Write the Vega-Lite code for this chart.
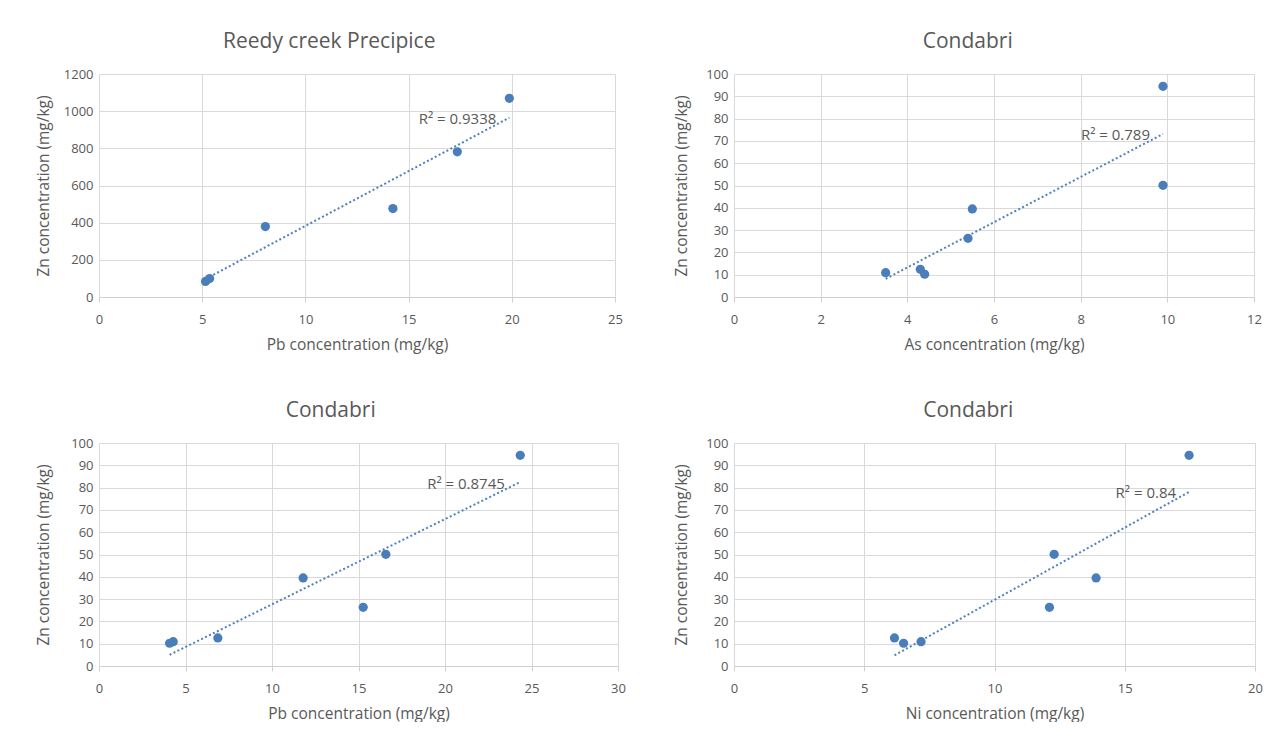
{
  "$schema": "https://vega.github.io/schema/vega-lite/v6.json",
  "background": "white",
  "padding": {"left": 36, "top": 31, "right": 0, "bottom": 0},
  "autosize": {"type": "pad"},
  "datasets": {
    "tl": [
      {"pb": 5.16, "zn": 84}, {"pb": 5.36, "zn": 99}, {"pb": 8.06, "zn": 379},
      {"pb": 14.24, "zn": 476}, {"pb": 17.36, "zn": 781}, {"pb": 19.88, "zn": 1069}
    ],
    "tr": [
      {"as": 3.5, "zn": 10.9}, {"as": 4.3, "zn": 12.4}, {"as": 4.4, "zn": 10.2},
      {"as": 5.4, "zn": 26.3}, {"as": 5.5, "zn": 39.5}, {"as": 9.9, "zn": 94.5}, {"as": 9.9, "zn": 50.1}
    ],
    "bl": [
      {"pb": 4.08, "zn": 10.2}, {"pb": 4.29, "zn": 10.9}, {"pb": 6.87, "zn": 12.6},
      {"pb": 11.8, "zn": 39.5}, {"pb": 15.27, "zn": 26.3}, {"pb": 16.58, "zn": 50.1}, {"pb": 24.35, "zn": 94.5}
    ],
    "br": [
      {"ni": 6.16, "zn": 12.6}, {"ni": 6.51, "zn": 10.2}, {"ni": 7.18, "zn": 10.9},
      {"ni": 12.11, "zn": 26.3}, {"ni": 12.29, "zn": 50.1}, {"ni": 13.9, "zn": 39.5}, {"ni": 17.47, "zn": 94.5}
    ],
    "tl_r2": [{"pb": 19.25, "zn": 958, "label": "R² = 0.9338"}],
    "tr_r2": [{"as": 9.6, "zn": 72.6, "label": "R² = 0.789"}],
    "bl_r2": [{"pb": 23.46, "zn": 81.6, "label": "R² = 0.8745"}],
    "br_r2": [{"ni": 16.97, "zn": 77.6, "label": "R² = 0.84"}]
  },
  "config": {
    "font": "Open Sans",
    "view": {"stroke": null},
    "axis": {
      "gridColor": "#d9d9d9",
      "gridWidth": 1,
      "domainColor": "#d0d0d0",
      "labelColor": "#595959",
      "titleColor": "#595959",
      "labelFontSize": 13,
      "titleFontSize": 15.5,
      "titleFontWeight": "normal",
      "labelFlush": false,
      "labelOverlap": false,
      "format": "d"
    },
    "axisX": {"tickColor": "#d0d0d0", "tickSize": 5, "labelPadding": 11, "titlePadding": 11},
    "axisY": {"ticks": false, "domain": false, "labelPadding": 6, "titlePadding": 8},
    "title": {"fontSize": 21, "fontWeight": "normal", "color": "#595959", "anchor": "middle", "frame": "bounds", "offset": 16},
    "line": {"color": "#4f81bd", "strokeWidth": 2, "strokeDash": [2, 2.4]},
    "circle": {"size": 85, "opacity": 1, "color": "#4a7ebb"},
    "text": {"align": "right", "baseline": "middle", "fontSize": 15, "color": "#595959"}
  },
  "columns": 2,
  "align": {"row": "each", "column": "none"},
  "spacing": {"row": 47, "column": 48},
  "concat": [
    {
      "title": "Reedy creek Precipice",
      "width": 516,
      "height": 223,
      "encoding": {
        "x": {"field": "pb", "type": "quantitative", "scale": {"domain": [0, 25], "nice": false},
              "axis": {"values": [0, 5, 10, 15, 20, 25], "title": "Pb concentration (mg/kg)"}},
        "y": {"field": "zn", "type": "quantitative", "scale": {"domain": [0, 1200], "nice": false},
              "axis": {"values": [0, 200, 400, 600, 800, 1000, 1200], "title": "Zn concentration (mg/kg)", "minExtent": 40, "maxExtent": 40}}
      },
      "layer": [
        {"data": {"name": "tl"}, "transform": [{"regression": "zn", "on": "pb"}], "mark": "line"},
        {"data": {"name": "tl"}, "mark": "circle"},
        {"data": {"name": "tl_r2"}, "mark": "text", "encoding": {"text": {"field": "label"}}}
      ]
    },
    {
      "title": "Condabri",
      "width": 520,
      "height": 223,
      "encoding": {
        "x": {"field": "as", "type": "quantitative", "scale": {"domain": [0, 12], "nice": false},
              "axis": {"values": [0, 2, 4, 6, 8, 10, 12], "title": "As concentration (mg/kg)"}},
        "y": {"field": "zn", "type": "quantitative", "scale": {"domain": [0, 100], "nice": false},
              "axis": {"values": [0, 10, 20, 30, 40, 50, 60, 70, 80, 90, 100], "title": "Zn concentration (mg/kg)", "minExtent": 37, "maxExtent": 37}}
      },
      "layer": [
        {"data": {"name": "tr"}, "transform": [{"regression": "zn", "on": "as"}], "mark": "line"},
        {"data": {"name": "tr"}, "mark": "circle"},
        {"data": {"name": "tr_r2"}, "mark": "text", "encoding": {"text": {"field": "label"}}}
      ]
    },
    {
      "title": "Condabri",
      "width": 519,
      "height": 223,
      "encoding": {
        "x": {"field": "pb", "type": "quantitative", "scale": {"domain": [0, 30], "nice": false},
              "axis": {"values": [0, 5, 10, 15, 20, 25, 30], "title": "Pb concentration (mg/kg)"}},
        "y": {"field": "zn", "type": "quantitative", "scale": {"domain": [0, 100], "nice": false},
              "axis": {"values": [0, 10, 20, 30, 40, 50, 60, 70, 80, 90, 100], "title": "Zn concentration (mg/kg)", "minExtent": 40, "maxExtent": 40}}
      },
      "layer": [
        {"data": {"name": "bl"}, "transform": [{"regression": "zn", "on": "pb"}], "mark": "line"},
        {"data": {"name": "bl"}, "mark": "circle"},
        {"data": {"name": "bl_r2"}, "mark": "text", "encoding": {"text": {"field": "label"}}}
      ]
    },
    {
      "title": "Condabri",
      "width": 521,
      "height": 223,
      "encoding": {
        "x": {"field": "ni", "type": "quantitative", "scale": {"domain": [0, 20], "nice": false},
              "axis": {"values": [0, 5, 10, 15, 20], "title": "Ni concentration (mg/kg)"}},
        "y": {"field": "zn", "type": "quantitative", "scale": {"domain": [0, 100], "nice": false},
              "axis": {"values": [0, 10, 20, 30, 40, 50, 60, 70, 80, 90, 100], "title": "Zn concentration (mg/kg)", "minExtent": 37, "maxExtent": 37}}
      },
      "layer": [
        {"data": {"name": "br"}, "transform": [{"regression": "zn", "on": "ni"}], "mark": "line"},
        {"data": {"name": "br"}, "mark": "circle"},
        {"data": {"name": "br_r2"}, "mark": "text", "encoding": {"text": {"field": "label"}}}
      ]
    }
  ]
}
